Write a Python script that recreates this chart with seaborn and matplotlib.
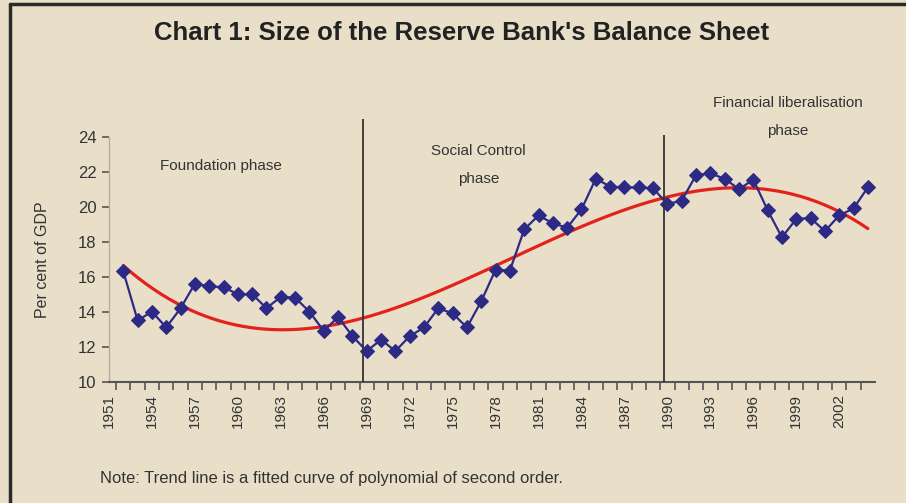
import numpy as np
import pandas as pd
import matplotlib
matplotlib.use("Agg")
import matplotlib.pyplot as plt
from matplotlib.lines import Line2D
import seaborn as sns

# data (per cent of GDP)
years = list(range(1952, 2005))
bs_pct_gdp = [16.3, 13.5, 14.0, 13.1, 14.2, 15.6, 15.45, 15.4, 15.0, 15.0,
              14.2, 14.85, 14.8, 14.0, 12.9, 13.7, 12.6, 11.75, 12.4, 11.75,
              12.6, 13.1, 14.2, 13.9, 13.1, 14.6, 16.4, 16.35, 18.7, 19.5,
              19.05, 18.8, 19.85, 21.6, 21.15, 21.1, 21.1, 21.05, 20.15, 20.35,
              21.8, 21.9, 21.6, 21.0, 21.55, 19.8, 18.25, 19.3, 19.35, 18.6,
              19.5, 19.9, 21.1]
tick_years = list(range(1951, 2003, 3))
phase_breaks = [1968.75, 1989.75]
phase_names = ["Foundation phase", "Social Control\n\nphase", "Financial liberalisation\n\nphase"]

df = pd.DataFrame({"Year": years, "Pct": bs_pct_gdp})

bg = "#E9DFC9"
navy = "#2D2A86"
red = "#E4221C"
txt = "#333333"

sns.set_theme(style="white")
plt.rcParams["font.family"] = ["Liberation Sans", "DejaVu Sans"]

fig = plt.figure(figsize=(9.06, 5.03), dpi=100, facecolor=bg)
ax = fig.add_axes([109 / 906, 1 - 381.7 / 503, 766 / 906, 245 / 503])
ax.set_facecolor(bg)

# trend line: polynomial fit done by seaborn
sns.regplot(data=df, x="Year", y="Pct", order=3, scatter=False, ci=None,
            ax=ax, line_kws={"color": red, "lw": 2.3, "zorder": 2})
sns.lineplot(data=df, x="Year", y="Pct", ax=ax, color=navy, lw=1.6,
             marker="D", markersize=7.5, markeredgecolor=navy, zorder=3)

ax.set_xlim(1951.2, 2004.5)
ax.set_ylim(10, 24)
ax.set_yticks(range(10, 25, 2))
ax.set_xticks(tick_years)
ax.set_xticks(np.arange(1951.5, 2004.5, 1), minor=True)
ax.set_xticklabels([str(y) for y in tick_years], rotation=90)
ax.tick_params(axis="x", which="major", length=0, pad=9, labelsize=11, labelcolor=txt)
ax.tick_params(axis="x", which="minor", bottom=True, length=6, width=1.2, color="#555555")
ax.tick_params(axis="y", left=True, length=5, width=1.2, color="#555555", labelsize=12,
               labelcolor=txt, pad=4)

for s in ["top", "right"]:
    ax.spines[s].set_visible(False)
ax.spines["left"].set_color("#B5AE9E")
ax.spines["left"].set_linewidth(1)
ax.spines["bottom"].set_color("#555555")
ax.spines["bottom"].set_linewidth(1.5)

ax.set_xlabel("")
ax.set_ylabel("Per cent of GDP", fontsize=11.5, color=txt, labelpad=20)

# phase boundaries
ax.vlines(phase_breaks, 10, [25.0, 24.1], colors=txt, lw=1.3, clip_on=False, zorder=4)

ax.text(1958.8, 22.3, phase_names[0], ha="center", va="center", fontsize=11, color=txt)
ax.text(1976.8, 22.4, phase_names[1], ha="center", va="center", fontsize=11, color=txt,
        linespacing=1.0)
ax.text(1998.4, 25.1, phase_names[2], ha="center", va="center", fontsize=11, color=txt,
        linespacing=1.0, clip_on=False)

fig.text(462 / 906, 1 - 33 / 503, "Chart 1: Size of the Reserve Bank's Balance Sheet",
         ha="center", va="center", fontsize=18.5, fontweight="bold", color="#222222")
fig.text(100 / 906, 1 - 478 / 503, "Note: Trend line is a fitted curve of polynomial of second order.",
         ha="left", va="center", fontsize=12, color=txt)

# dark edge on top and left of the panel
fig.add_artist(Line2D([10 / 906, 1], [1 - 4 / 503] * 2, transform=fig.transFigure,
                      color="#2A2A2A", lw=2.5))
fig.add_artist(Line2D([10 / 906] * 2, [0, 1 - 4 / 503], transform=fig.transFigure,
                      color="#2A2A2A", lw=2.5))

fig.savefig("out.png", dpi=100, facecolor=bg)
